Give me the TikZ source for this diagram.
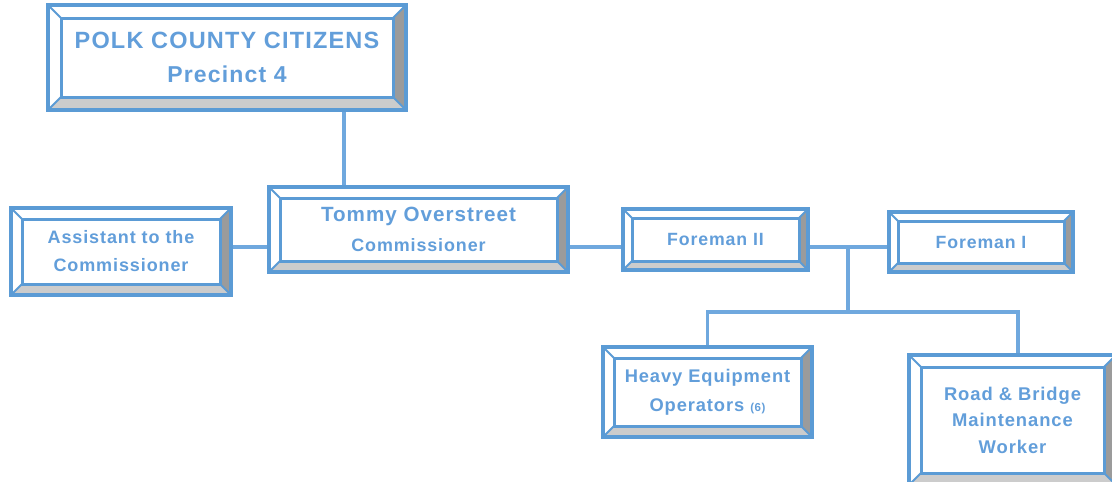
\documentclass[tikz,border=0pt]{standalone}
\usepackage{fontspec}
\setmainfont{Liberation Sans}[LetterSpace=5]
\usepackage{tikz}

\definecolor{boxblue}{RGB}{91,155,213}
\definecolor{txtblue}{RGB}{98,158,218}
\definecolor{linkblue}{RGB}{111,168,222}
\definecolor{bevdark}{RGB}{155,155,155}
\definecolor{bevlight}{RGB}{204,204,204}

\tikzset{
  bev/.code={\def\bevw{#1pt}},
  bev=11,
  bevelbox/.style={draw=boxblue, line width=3.6pt, fill=white, inner sep=0pt,
    align=center, text=txtblue,
    path picture={
      % outer and inner corners of the frame
      \coordinate (bsw) at (path picture bounding box.south west);
      \coordinate (bne) at (path picture bounding box.north east);
      \coordinate (bse) at (bsw -| bne);
      \coordinate (bnw) at (bsw |- bne);
      \coordinate (isw) at ([xshift=\bevw,yshift=\bevw]bsw);
      \coordinate (ine) at ([xshift=-\bevw,yshift=-\bevw]bne);
      \coordinate (ise) at (isw -| ine);
      \coordinate (inw) at (isw |- ine);
      \fill[bevdark] (bse) -- (bne) -- (ine) -- (ise) -- cycle;
      \fill[bevlight] (bsw) -- (bse) -- (ise) -- (isw) -- cycle;
      \draw[boxblue, line width=2pt] (bsw) -- (isw) (bse) -- (ise)
        (bne) -- (ine) (bnw) -- (inw);
      \draw[boxblue, line width=3pt] (isw) rectangle (ine);
    }},
  link/.style={draw=linkblue, line width=3.4pt},
}

\begin{document}
\begin{tikzpicture}[x=1pt,y=-1pt]
\useasboundingbox (0,0) rectangle (1112,482);

    \node[bevelbox, bev=13, minimum width=358pt, minimum height=105pt,
          font=\fontsize{23.5}{34}\selectfont\bfseries]
          (polk) at (227,57.5) {POLK COUNTY CITIZENS\\{\fontsize{23}{34}\selectfont Precinct 4}};

    \node[bevelbox, minimum width=299pt, minimum height=85pt,
          font=\fontsize{20.6}{30}\selectfont\bfseries]
          (tommy) at (418.5,229.5) {Tommy Overstreet\\{\fontsize{17.9}{30}\selectfont Commissioner}};

    \node[bevelbox, minimum width=220pt, minimum height=87pt,
          font=\fontsize{18}{28}\selectfont\bfseries]
          (asst) at (121,251.5) {Assistant to the\\Commissioner};

    \node[bevelbox, bev=9, minimum width=185pt, minimum height=61pt,
          font=\fontsize{17.7}{20}\selectfont\bfseries]
          (fore2) at (715.5,239.5) {Foreman II};

    \node[bevelbox, bev=9, minimum width=184pt, minimum height=60pt,
          font=\fontsize{17.7}{20}\selectfont\bfseries]
          (fore1) at (981,242) {Foreman I};

    \node[bevelbox, minimum width=209pt, minimum height=90pt,
          font=\fontsize{18.3}{29}\selectfont\bfseries]
          (heavy) at (707.5,392) {Heavy Equipment\\Operators {\fontsize{11.5}{29}\selectfont(6)}};

    \node[bevelbox, bev=12, minimum width=207pt, minimum height=130pt,
          font=\fontsize{18.4}{26.5}\selectfont\bfseries]
          (road) at (1012.5,420) {Road \& Bridge\\Maintenance\\Worker};

    % connecting lines
    \coordinate (busy) at (0,247);
    \coordinate (split) at (848,247);
    \coordinate (rail) at (848,312);

    \draw[link] ([xshift=117pt]polk.south) -- ([xshift=117pt]polk.south |- tommy.north);
    \draw[link] (asst.east |- busy) -- (tommy.west |- busy);
    \draw[link] (tommy.east |- busy) -- (fore2.west |- busy);
    \draw[link] (fore2.east |- busy) -- (fore1.west |- busy);
    \draw[link] (split) -- (rail);
    \draw[link] (heavy.north) |- (rail) -| ([xshift=5.5pt]road.north);

\end{tikzpicture}
\end{document}
